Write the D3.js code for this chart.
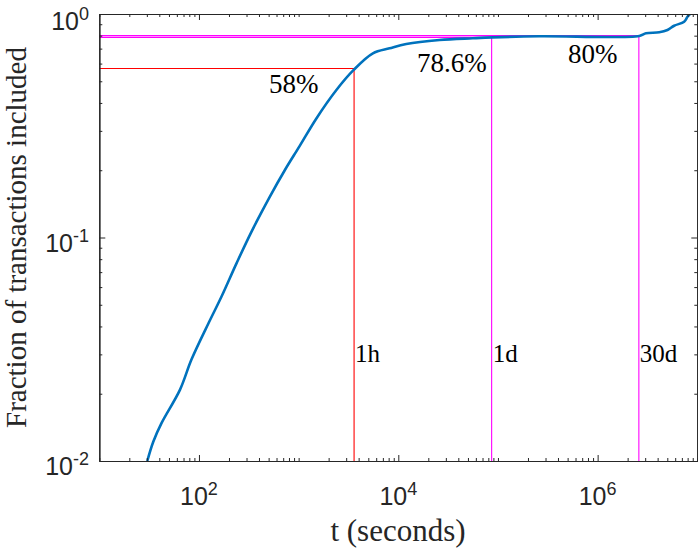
<!DOCTYPE html>
<html>
<head>
<meta charset="utf-8">
<script src="https://cdn.jsdelivr.net/npm/d3@7"></script>
<style>
html,body{margin:0;padding:0;background:#fff;}
svg{display:block;}
</style>
</head>
<body>
<svg id="chart" width="698" height="549"></svg>
<script>
// ---- data ----
const timesSec = [30.3, 34.8, 42.2, 64.4, 84.3, 128.5, 168, 238, 336, 513, 726, 1026, 1507, 2393, 3566, 5560, 8180, 12020, 25900, 55900, 88700, 260000, 2620000, 3060000, 4150000, 5020000, 5860000, 7380000, 7970000, 8430000];
const fractionIncluded = [0.0100, 0.0122, 0.0148, 0.0208, 0.0285, 0.0425, 0.0543, 0.0766, 0.106, 0.152, 0.200, 0.257, 0.341, 0.457, 0.562, 0.667, 0.702, 0.734, 0.765, 0.779, 0.786, 0.795, 0.798, 0.820, 0.828, 0.848, 0.886, 0.924, 0.972, 1.0];
const markerTimes = [3600, 86400, 2592000];
const markerFractions = [0.57, 0.786, 0.80];
const markerNames = ["1h", "1d", "30d"];
const markerPercents = ["58%", "78.6%", "80%"];
const xMajorTicks = [1e2, 1e4, 1e6];
const xTickExponents = ["2", "4", "6"];
const yMajorTicks = [1e-2, 1e-1, 1e0];
const yTickExponents = ["-2", "-1", "0"];
const xLabel = "t (seconds)";
const yLabel = "Fraction of transactions included";

// ---- layout ----
const L = 99.3, R = 697.3, T = 14, B = 461;
const svg = d3.select("#chart");
const x = d3.scaleLog().domain([10, 1e7]).range([L, R]);
const y = d3.scaleLog().domain([0.01, 1]).range([B, T]);
const axisColor = "#262626";
const markerColors = ["#ff0000", "#ff00ff", "#ff00ff"];

function minorTicks(lo, hi) {
  const out = [];
  for (let e = lo; e < hi; e++) for (let k = 1; k <= 9; k++) out.push(k * Math.pow(10, e));
  out.push(Math.pow(10, hi));
  return out;
}
const xMinor = minorTicks(1, 7).filter(v => !xMajorTicks.includes(v));
const yMinor = minorTicks(-2, 0).filter(v => !yMajorTicks.some(m => Math.abs(m - v) < 1e-12));

function styleAxis(g) {
  g.select(".domain").attr("stroke", axisColor).attr("stroke-width", 1.2);
  g.selectAll(".tick line").attr("stroke", axisColor).attr("stroke-width", 1);
  g.selectAll(".tick text").remove();
}

// clip
svg.append("defs").append("clipPath").attr("id", "clip")
  .append("rect").attr("x", L).attr("y", T).attr("width", R - L).attr("height", B - T);

// marker lines
const plot = svg.append("g").attr("clip-path", "url(#clip)");
markerTimes.forEach((t, i) => {
  plot.append("line")
    .attr("x1", x(10)).attr("x2", x(t))
    .attr("y1", y(markerFractions[i])).attr("y2", y(markerFractions[i]))
    .attr("stroke", markerColors[i]).attr("stroke-width", 1.1);
  plot.append("line")
    .attr("x1", x(t)).attr("x2", x(t))
    .attr("y1", y(0.01)).attr("y2", y(markerFractions[i]))
    .attr("stroke", markerColors[i]).attr("stroke-width", 1.1);
});

// curve
const pts = timesSec.map((t, i) => [t, fractionIncluded[i]]);
plot.append("path")
  .datum(pts)
  .attr("fill", "none")
  .attr("stroke", "#0072BD")
  .attr("stroke-width", 2.6)
  .attr("stroke-linejoin", "round")
  .attr("d", d3.line().x(d => x(d[0])).y(d => y(d[1])).curve(d3.curveCatmullRom.alpha(0.5)));

// axes (ticks inward, box)
[[d3.axisBottom(x), `translate(0,${B})`], [d3.axisTop(x), `translate(0,${T})`]].forEach(([ax, tr]) => {
  svg.append("g").attr("transform", tr)
    .call(ax.tickValues(xMinor).tickSize(-3).tickSizeOuter(0).tickFormat(""))
    .call(styleAxis);
  svg.append("g").attr("transform", tr)
    .call(ax.tickValues(xMajorTicks).tickSize(-6).tickSizeOuter(0).tickFormat(""))
    .call(styleAxis);
});
[[d3.axisLeft(y), `translate(${L},0)`], [d3.axisRight(y), `translate(${R},0)`]].forEach(([ax, tr]) => {
  svg.append("g").attr("transform", tr)
    .call(ax.tickValues(yMinor).tickSize(-3).tickSizeOuter(0).tickFormat(""))
    .call(styleAxis);
  svg.append("g").attr("transform", tr)
    .call(ax.tickValues(yMajorTicks).tickSize(-6).tickSizeOuter(0).tickFormat(""))
    .call(styleAxis);
});

// tick labels
const tickFont = "'Liberation Sans', Arial, sans-serif";
xMajorTicks.forEach((v, i) => {
  const t = svg.append("text")
    .attr("x", x(v)).attr("y", 505)
    .attr("text-anchor", "middle")
    .style("font-family", tickFont).attr("font-size", 25).attr("fill", axisColor);
  t.append("tspan").text("10");
  t.append("tspan").attr("dy", -10).attr("font-size", 18).text(xTickExponents[i]);
});
yMajorTicks.forEach((v, i) => {
  const t = svg.append("text")
    .attr("x", 89).attr("y", y(v) + 14 + (i === 2 ? 2 : 0))
    .attr("text-anchor", "end")
    .style("font-family", tickFont).attr("font-size", 25).attr("fill", axisColor);
  t.append("tspan").text("10");
  t.append("tspan").attr("dy", -10).attr("font-size", 18).text(yTickExponents[i]);
});

// axis labels
const serif = "'Liberation Serif', 'DejaVu Serif', serif";
svg.append("text")
  .attr("x", 398).attr("y", 541)
  .attr("text-anchor", "middle")
  .style("font-family", serif).attr("font-size", 31).attr("fill", "#262626")
  .text(xLabel);
svg.append("text")
  .attr("transform", `translate(26,${(T + B) / 2}) rotate(-90)`)
  .attr("text-anchor", "middle")
  .style("font-family", serif).attr("font-size", 29).attr("fill", "#262626")
  .text(yLabel);

// annotations
const pctPos = [[269, 93], [417, 72], [568, 63]];
markerPercents.forEach((p, i) => {
  svg.append("text")
    .attr("x", pctPos[i][0]).attr("y", pctPos[i][1])
    .style("font-family", serif).attr("font-size", 27).attr("fill", "#000")
    .text(p);
});
markerTimes.forEach((t, i) => {
  svg.append("text")
    .attr("x", x(t) + 1).attr("y", 362)
    .style("font-family", serif).attr("font-size", 25).attr("fill", "#000")
    .text(markerNames[i]);
});
</script>
</body>
</html>
